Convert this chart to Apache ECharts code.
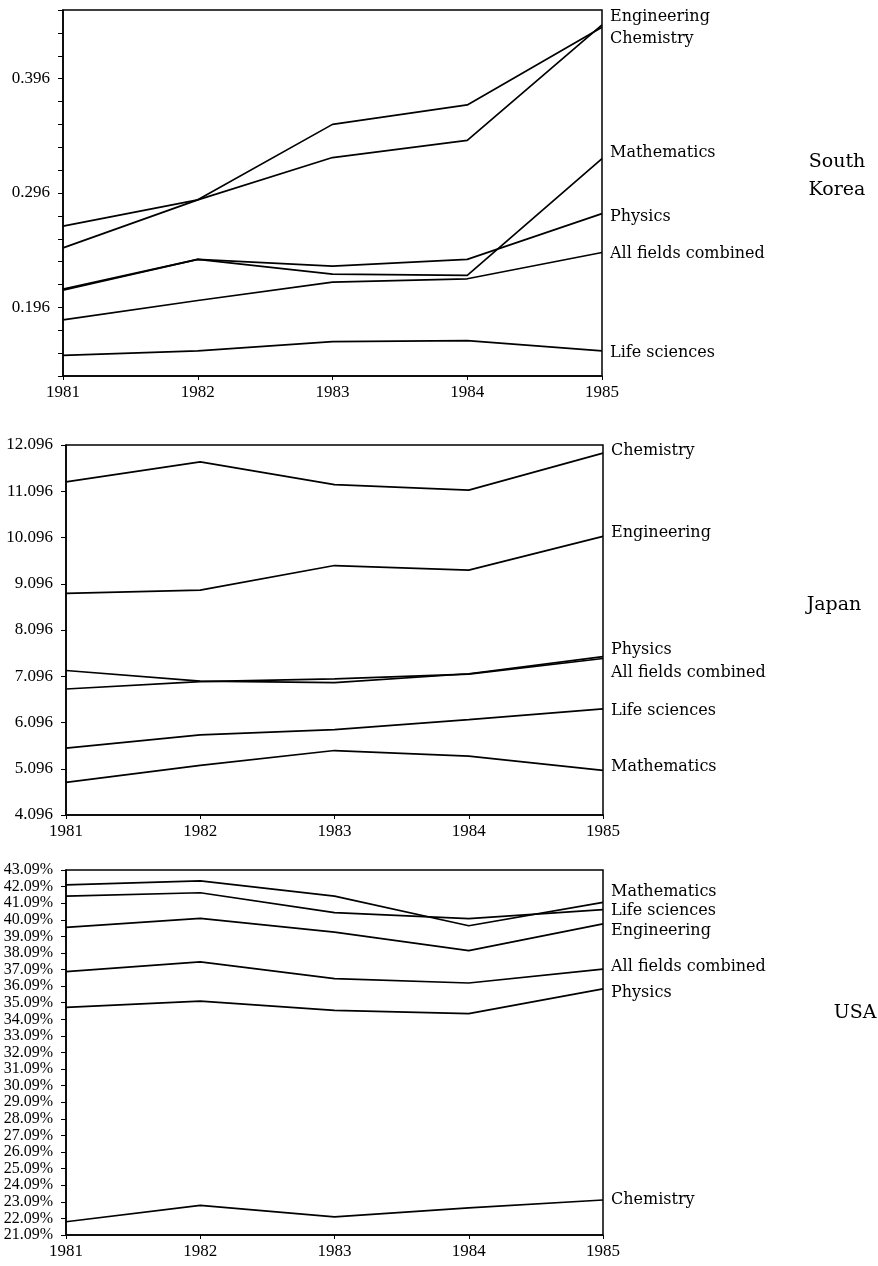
<!DOCTYPE html>
<html>
<head>
<meta charset="utf-8">
<script src="https://cdn.jsdelivr.net/npm/echarts@6/dist/echarts.min.js"></script>
<style>
  html, body { margin: 0; padding: 0; background: #fff; }
  #chart { width: 878px; height: 1266px; }
</style>
</head>
<body>
<div id="chart"></div>
<script>
const years = ['1981', '1982', '1983', '1984', '1985']

// South Korea
const krEngineering = [0.267, 0.290, 0.327, 0.342, 0.443]
const krChemistry = [0.248, 0.290, 0.356, 0.373, 0.441]
const krMathematics = [0.211, 0.238, 0.225, 0.224, 0.326]
const krPhysics = [0.212, 0.238, 0.232, 0.238, 0.278]
const krAllFields = [0.185, 0.202, 0.218, 0.221, 0.244]
const krLifeSciences = [0.154, 0.158, 0.166, 0.167, 0.158]
const krTicks = [0.136, 0.156, 0.176, 0.196, 0.216, 0.236, 0.256, 0.276, 0.296,
  0.316, 0.336, 0.356, 0.376, 0.396, 0.416, 0.436, 0.456]
const krLabels = [0.196, 0.296, 0.396]

// Japan
const jpChemistry = [11.30, 11.73, 11.24, 11.12, 11.92]
const jpEngineering = [8.89, 8.96, 9.49, 9.39, 10.12]
const jpPhysics = [7.22, 6.99, 6.96, 7.15, 7.52]
const jpAllFields = [6.82, 6.98, 7.04, 7.14, 7.48]
const jpLifeSciences = [5.54, 5.83, 5.94, 6.16, 6.39]
const jpMathematics = [4.80, 5.17, 5.49, 5.37, 5.06]
const jpLabels = [4.096, 5.096, 6.096, 7.096, 8.096, 9.096, 10.096, 11.096, 12.096]

// USA (%)
const usMathematics = [42.19, 42.43, 41.52, 39.73, 41.14]
const usLifeSciences = [41.52, 41.72, 40.52, 40.16, 40.70]
const usEngineering = [39.63, 40.17, 39.35, 38.23, 39.84]
const usAllFields = [36.96, 37.55, 36.54, 36.28, 37.12]
const usPhysics = [34.81, 35.19, 34.63, 34.43, 35.92]
const usChemistry = [21.89, 22.87, 22.18, 22.72, 23.20]
const usLabels = [21.09, 22.09, 23.09, 24.09, 25.09, 26.09, 27.09, 28.09, 29.09, 30.09,
  31.09, 32.09, 33.09, 34.09, 35.09, 36.09, 37.09, 38.09, 39.09, 40.09, 41.09, 42.09, 43.09]

const serif = 'Liberation Serif'
const labelFont = 'DejaVu Serif'

const grids = [
  { left: 63, right: 276, top: 10, height: 366 },
  { left: 66, right: 275, top: 445, height: 370 },
  { left: 66, right: 275, top: 870, height: 365 }
]

function xAxisFor (i) {
  return {
    type: 'category',
    gridIndex: i,
    data: years,
    boundaryGap: false,
    axisLine: { lineStyle: { color: '#000', width: 1.5 } },
    axisTick: { show: true, length: 4, inside: false, lineStyle: { color: '#000' } },
    axisLabel: { color: '#000', fontFamily: serif, fontSize: 17, margin: 8 },
    splitLine: { show: false }
  }
}

function yAxisFor (i, min, max, ticks, labels, fmt, fontSize) {
  return {
    type: 'value',
    gridIndex: i,
    min: min,
    max: max,
    axisLine: { show: true, lineStyle: { color: '#000', width: 1.5 } },
    axisTick: { show: true, length: 5, customValues: ticks, lineStyle: { color: '#000' } },
    axisLabel: { color: '#000', fontFamily: serif, fontSize: fontSize, margin: 13,
      customValues: labels, formatter: fmt },
    splitLine: { show: false }
  }
}

// where the right-hand name sits relative to the line end
const nameOffsets = {
  kr: { Engineering: -8, Chemistry: 12, Mathematics: -6, Physics: 3, 'All fields combined': 1, 'Life sciences': 2 },
  jp: { Chemistry: -2, Engineering: -4, Physics: -7, 'All fields combined': 14, 'Life sciences': 2, Mathematics: -4 },
  us: { Mathematics: -11, 'Life sciences': 1, Engineering: 7, 'All fields combined': -2, Physics: 4, Chemistry: 0 }
}

function line (name, data, i, key) {
  return {
    name: name,
    type: 'line',
    xAxisIndex: i,
    yAxisIndex: i,
    data: data,
    showSymbol: false,
    symbol: 'none',
    lineStyle: { color: '#000', width: 1.7 },
    endLabel: {
      show: true,
      formatter: '{a}',
      distance: 8,
      offset: [0, nameOffsets[key][name]],
      color: '#000',
      fontFamily: labelFont,
      fontSize: 16
    }
  }
}

const chart = echarts.init(document.getElementById('chart'), null, { renderer: 'canvas' })

const countryStyle = { fontFamily: labelFont, fontSize: 19, fontWeight: 'normal', color: '#000', lineHeight: 28 }

const option = {
  animation: false,
  backgroundColor: '#fff',
  title: [
    { text: 'South\nKorea', left: 832, top: 143, textAlign: 'center', textStyle: countryStyle },
    { text: 'Japan', left: 829, top: 586, textAlign: 'center', textStyle: countryStyle },
    { text: 'USA', left: 850, top: 994, textAlign: 'center', textStyle: countryStyle }
  ],
  grid: grids.map(g => Object.assign({ show: true, borderColor: '#000', borderWidth: 1.5, containLabel: false }, g)),
  xAxis: [xAxisFor(0), xAxisFor(1), xAxisFor(2)],
  yAxis: [
    yAxisFor(0, 0.136, 0.456, krTicks, krLabels, v => v.toFixed(3), 17),
    yAxisFor(1, 4.096, 12.096, jpLabels, jpLabels, v => v.toFixed(3), 17),
    yAxisFor(2, 21.09, 43.09, usLabels, usLabels, v => v.toFixed(2) + '%', 16)
  ],
  series: [
    line('Engineering', krEngineering, 0, 'kr'),
    line('Chemistry', krChemistry, 0, 'kr'),
    line('Mathematics', krMathematics, 0, 'kr'),
    line('Physics', krPhysics, 0, 'kr'),
    line('All fields combined', krAllFields, 0, 'kr'),
    line('Life sciences', krLifeSciences, 0, 'kr'),

    line('Chemistry', jpChemistry, 1, 'jp'),
    line('Engineering', jpEngineering, 1, 'jp'),
    line('Physics', jpPhysics, 1, 'jp'),
    line('All fields combined', jpAllFields, 1, 'jp'),
    line('Life sciences', jpLifeSciences, 1, 'jp'),
    line('Mathematics', jpMathematics, 1, 'jp'),

    line('Mathematics', usMathematics, 2, 'us'),
    line('Life sciences', usLifeSciences, 2, 'us'),
    line('Engineering', usEngineering, 2, 'us'),
    line('All fields combined', usAllFields, 2, 'us'),
    line('Physics', usPhysics, 2, 'us'),
    line('Chemistry', usChemistry, 2, 'us')
  ]
}

chart.setOption(option)
</script>
</body>
</html>
